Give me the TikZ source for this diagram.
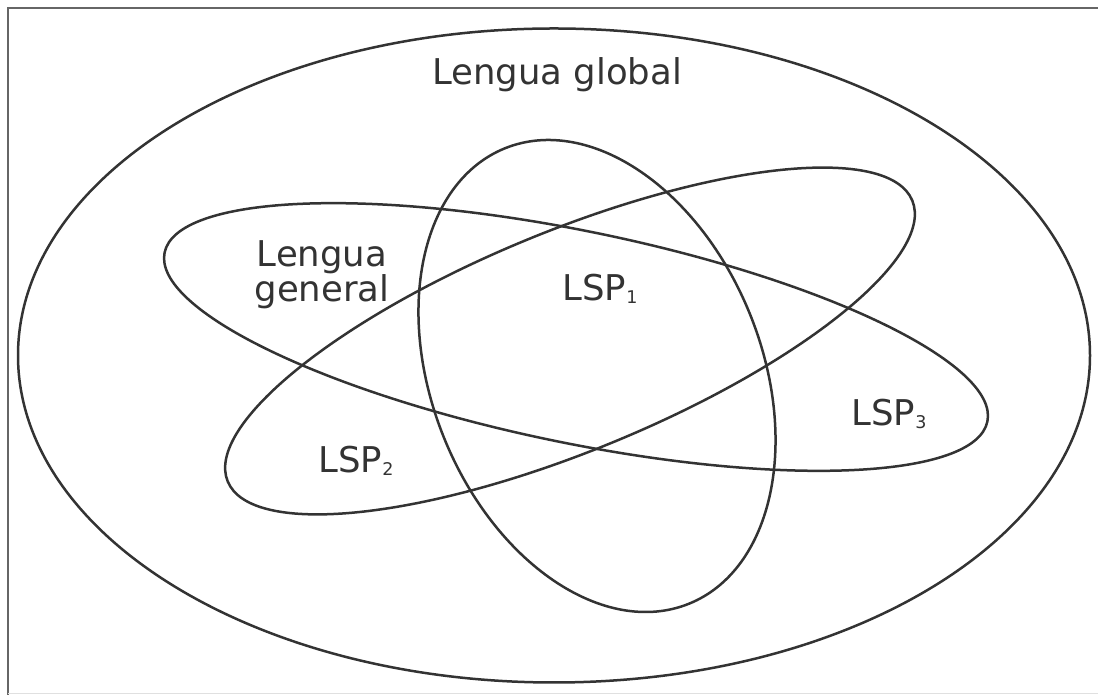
\documentclass[tikz,border=0pt]{standalone}
\usepackage{fontspec}
\setmainfont{DejaVu Sans}
\begin{document}
\begin{tikzpicture}[x=1pt,y=1pt,
  shape line/.style={draw=black!80, line width=2.5pt},
  frame line/.style={draw=black!60, line width=2.4pt},
  label text/.style={font=\fontsize{35.5}{39}\selectfont, text=black!80, inner sep=0pt, align=center}]
\newcommand{\sublsp}[1]{LSP\raisebox{-3pt}{\fontsize{17.5}{17.5}\selectfont #1}}
\useasboundingbox (0,0) rectangle (1098,695);
% frame
\draw[frame line] (8,0) -- (8,687) -- (1098,687);
\draw[draw=black!12, line width=1pt] (8,1.5) -- (1098,1.5);
% outer ellipse
\coordinate (outer) at (554,339.5);
\draw[shape line] (outer) ellipse [x radius=536, y radius=327];
% Lengua general / LSP3 ellipse
\coordinate (cA) at (576,358);
\draw[shape line] (cA) ellipse [x radius=420, y radius=106, rotate=-11.6];
% LSP2 ellipse
\coordinate (cB) at (570,354);
\draw[shape line] (cB) ellipse [x radius=370, y radius=110, rotate=22.3];
% LSP1 ellipse
\coordinate (cC) at (597,319);
\draw[shape line] (cC) ellipse [x radius=165, y radius=245.6, rotate=22];
% labels
\node[label text] (global) at (557,620) {Lengua global};
\node[label text] (general) at (322,420) {Lengua\\[-4pt]general};
\node[label text] (lsp1) at (600,406) {\sublsp{1}};
\node[label text] (lsp2) at (356,234) {\sublsp{2}};
\node[label text] (lsp3) at (889,281) {\sublsp{3}};
\end{tikzpicture}
\end{document}
